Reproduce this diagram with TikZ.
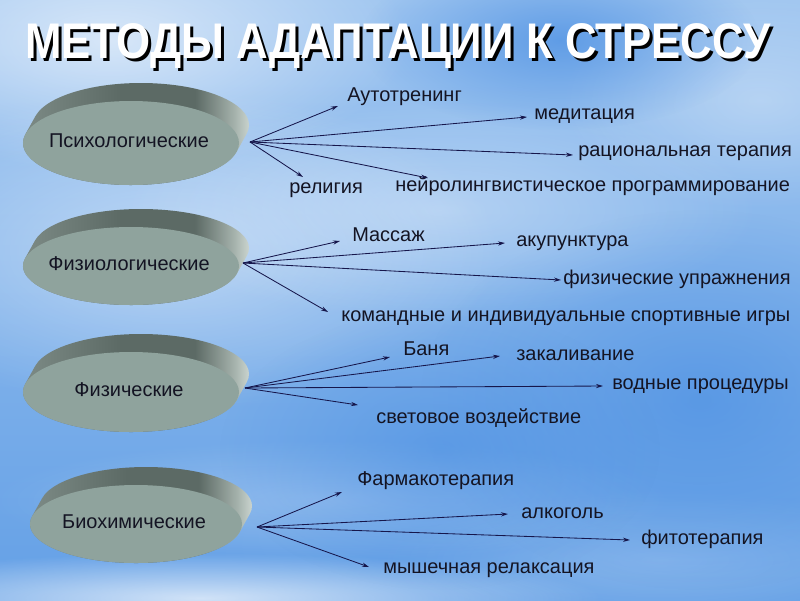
\documentclass[tikz,border=0pt]{standalone}
\usepackage{fontspec}
\setmainfont{Liberation Sans}
\usepackage{xcolor}
\usepackage{tikz}
\usetikzlibrary{arrows.meta, calc, fadings, shadings}

\definecolor{skytop}{RGB}{160,198,240}
\definecolor{skymid}{RGB}{112,168,232}
\definecolor{skybot}{RGB}{100,160,230}
\definecolor{skydeep}{RGB}{70,140,226}
\definecolor{discface}{RGB}{143,163,157}
\definecolor{rimleft}{RGB}{128,142,137}
\definecolor{rimmid}{RGB}{92,106,101}
\definecolor{rimlite}{RGB}{165,178,172}
\definecolor{rimright}{RGB}{226,234,229}
\definecolor{labeltext}{RGB}{20,20,35}
\definecolor{arrowblue}{RGB}{22,22,75}

\pgfdeclarehorizontalshading{rimshade}{100bp}{color(0bp)=(rimleft); color(25bp)=(rimleft);
  color(47bp)=(rimmid); color(62bp)=(rimmid); color(70bp)=(rimlite);
  color(75bp)=(rimright); color(100bp)=(rimright)}
\tikzfading[name=cloudfade, inner color=transparent!0, outer color=transparent!100]

\newcommand{\labelfont}{\fontsize{14.2}{17}\selectfont}
\newcommand{\titlefont}{\fontsize{35.6}{40}\selectfont\bfseries}

\begin{document}
\begin{tikzpicture}[
    x=0.025cm, y=-0.025cm,
    lbl/.style      = {anchor=west, inner sep=0pt, font=\labelfont, text=labeltext},
    disctext/.style = {inner sep=0pt, font=\labelfont, text=labeltext},
    arr/.style      = {-{Stealth[length=5pt, width=3pt]}, line width=0.6pt, arrowblue},
    cloud/.style    = {white, path fading=cloudfade},
    titlebox/.style = {anchor=base, inner sep=0pt, font=\titlefont},
]
\useasboundingbox (0,0) rectangle (800,600);

%% ── Sky background ──────────────────────────────────────────────────────────
\shade[top color=skytop, middle color=skymid, bottom color=skybot] (0,0) rectangle (800,600);
\fill[cloud, opacity=.6]  (110,40)  ellipse (300 and 130);
\fill[cloud, opacity=.45] (170,250) ellipse (330 and 160);
\fill[cloud, opacity=.35] (440,210) ellipse (320 and 110);
\fill[cloud, opacity=.3]  (760,100) ellipse (200 and 110);
\fill[cloud, opacity=.25] (330,500) ellipse (340 and 60);
\fill[cloud, opacity=.7]  (200,598) ellipse (400 and 45);
\fill[cloud, opacity=.2]  (660,560) ellipse (280 and 70);
\fill[skydeep, path fading=cloudfade, opacity=.7] (560,40)  ellipse (200 and 90);
\fill[skydeep, path fading=cloudfade, opacity=.6] (700,400) ellipse (280 and 190);
\fill[skydeep, path fading=cloudfade, opacity=.5] (440,450) ellipse (220 and 140);

%% ── Title ───────────────────────────────────────────────────────────────────
\node[titlebox, text=black] (titlesh) at (401,61) {\scalebox{0.875}[1]{МЕТОДЫ АДАПТАЦИИ К СТРЕССУ}};
\node[titlebox, text=white] (title)   at (398,58) {\scalebox{0.875}[1]{МЕТОДЫ АДАПТАЦИИ К СТРЕССУ}};

%% ── Discs: rim (hull of the face and its copy shifted by (10,-18)), then face
\foreach \cx/\cy/\rx/\ry/\nm/\txt in {131/143/108/42/psy/Психологические,
                                      131/266/108/39/fiziol/Физиологические,
                                      131/392/108/40/fiz/Физические,
                                      136/524/106/39/bio/Биохимические}{
  \pgfmathsetmacro\tg{atan(10*\ry/(18*\rx))}
  \shade[shading=rimshade]
    ({\cx+10+\rx*cos(\tg+180)}, {\cy-18+\ry*sin(\tg+180)})
      arc[start angle=\tg+180, end angle=\tg+360, x radius=\rx, y radius=\ry]
    -- ({\cx+\rx*cos(\tg)}, {\cy+\ry*sin(\tg)})
      arc[start angle=\tg, end angle=\tg+180, x radius=\rx, y radius=\ry]
    -- cycle;
  \fill[discface] (\cx,\cy) ellipse [x radius=\rx, y radius=\ry];
  \node[disctext] (\nm) at (\cx-2,\cy-2) {\txt};
}

\coordinate (psyo)    at (250,142);
\coordinate (fiziolo) at (243,263);
\coordinate (fizo)    at (245,388);
\coordinate (bioo)    at (257,527);

%% ── Психологические ─────────────────────────────────────────────────────────
\node[lbl] (auto)  at (347,97)  {Аутотренинг};
\node[lbl] (medit) at (534,116) {медитация};
\node[lbl] (ratio) at (578,153) {рациональная терапия};
\node[lbl] (neuro) at (395,186) {нейролингвистическое программирование};
\node[lbl] (relig) at (289,190) {религия};

\draw[arr] (psyo) -- ($(auto.west)+(-9,9)$);
\draw[arr] (psyo) -- ($(medit.west)+(-7,1)$);
\draw[arr] (psyo) -- ($(ratio.west)+(-5,2)$);
\draw[arr] (psyo) -- ($(neuro.west)+(33,-8)$);
\draw[arr] (psyo) -- ($(relig.west)+(14,-13)$);

%% ── Физиологические ─────────────────────────────────────────────────────────
\node[lbl] (massage) at (352,235) {Массаж};
\node[lbl] (acup)    at (516,243) {акупунктура};
\node[lbl] (exerc)   at (563,279) {физические упражнения};
\node[lbl] (games)   at (341,318) {командные и индивидуальные спортивные игры};

\draw[arr] (fiziolo) -- ($(massage.west)+(-12,6)$);
\draw[arr] (fiziolo) -- ($(acup.west)+(-11,0)$);
\draw[arr] (fiziolo) -- ($(exerc.west)+(-2,1)$);
\draw[arr] (fiziolo) -- ($(games.west)+(-13,-6)$);

%% ── Физические ──────────────────────────────────────────────────────────────
\node[lbl] (banya) at (403,349) {Баня};
\node[lbl] (harden) at (516,355) {закаливание};
\node[lbl] (water) at (612,386) {водные процедуры};
\node[lbl] (light) at (376,418) {световое воздействие};

\draw[arr] (fizo) -- ($(banya.west)+(-13,8)$);
\draw[arr] (fizo) -- ($(harden.west)+(-16,1)$);
\draw[arr] (fizo) -- ($(water.west)+(-9,0)$);
\draw[arr] (fizo) -- ($(light.west)+(-18,-13)$);

%% ── Биохимические ───────────────────────────────────────────────────────────
\node[lbl] (pharma) at (357,481) {Фармакотерапия};
\node[lbl] (alco)   at (521,513) {алкоголь};
\node[lbl] (phyto)  at (641,539) {фитотерапия};
\node[lbl] (relax)  at (383,570) {мышечная релаксация};

\draw[arr] (bioo) -- ($(pharma.west)+(-15,11)$);
\draw[arr] (bioo) -- ($(alco.west)+(-13,1)$);
\draw[arr] (bioo) -- ($(phyto.west)+(-11,1)$);
\draw[arr] (bioo) -- ($(relax.west)+(-14,-3)$);

\end{tikzpicture}
\end{document}
